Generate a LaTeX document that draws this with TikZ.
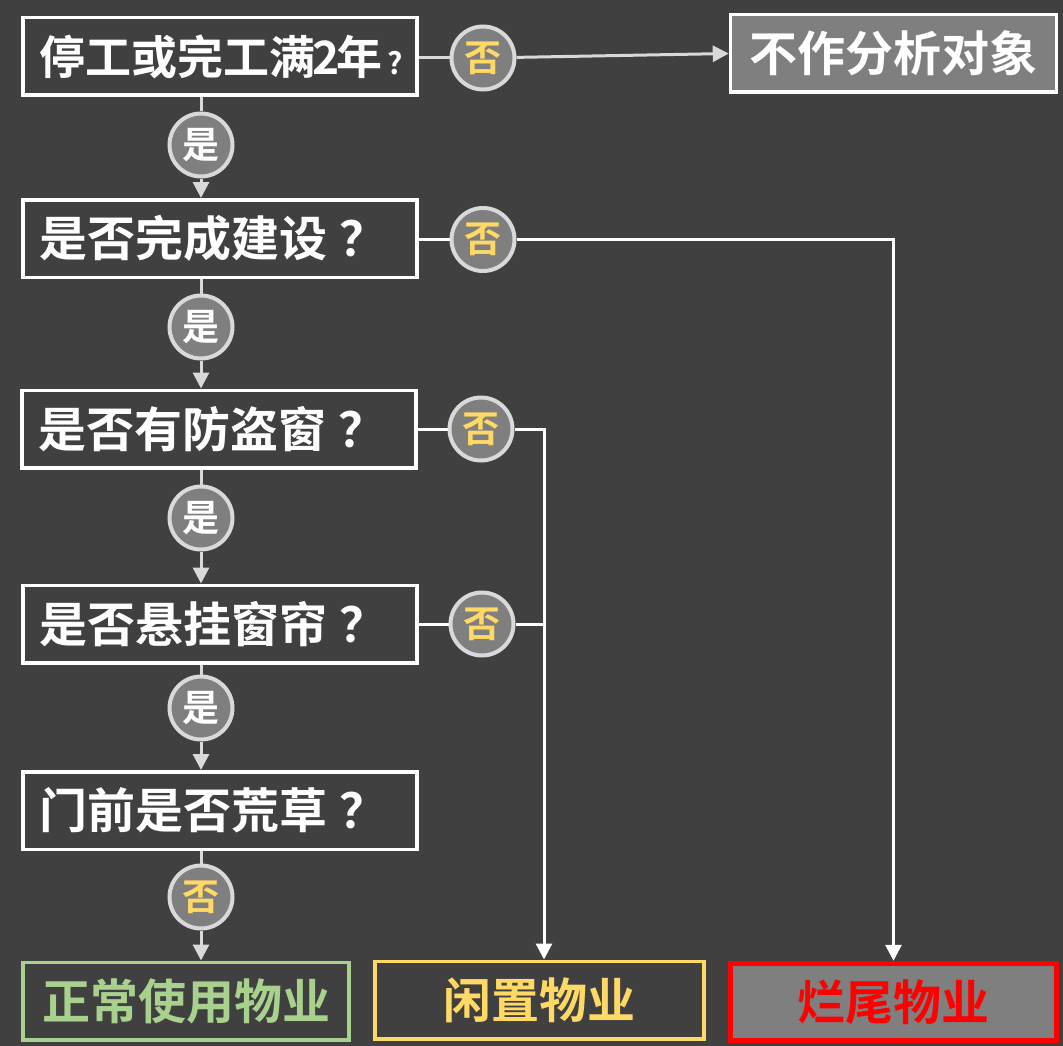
\documentclass[tikz,border=0pt]{standalone}
\usepackage{fontspec}
\setmainfont{Noto Sans CJK SC}[BoldFont={Noto Sans CJK SC Bold}]
\usepackage{xcolor}
\usetikzlibrary{arrows.meta, positioning}
\definecolor{bgdark}{HTML}{404040}
\definecolor{midgray}{HTML}{7F7F7F}
\definecolor{linegray}{HTML}{D9D9D9}
\definecolor{noyellow}{HTML}{FFD966}
\definecolor{okgreen}{HTML}{A9D18E}
\definecolor{ruinred}{HTML}{FF0000}
\newcommand{\qmark}{\kern12pt？}
\tikzset{
    question/.style={rectangle, draw=white, line width=3.5pt, text=white, font=\bfseries\fontsize{48pt}{52pt}\selectfont, text width=362pt, inner xsep=16pt, inner ysep=0pt, align=left, minimum height=77.5pt},
    outcome/.style={rectangle, line width=3.5pt, font=\bfseries\fontsize{48pt}{52pt}\selectfont, minimum width=326pt, minimum height=77.5pt, inner sep=0pt},
    yescircle/.style={circle, draw=linegray, line width=4pt, fill=midgray, text=white, minimum size=63pt, inner sep=0pt, font=\bfseries\fontsize{37pt}{37pt}\selectfont},
    nocircle/.style={yescircle, text=noyellow},
    link/.style={linegray, line width=3pt},
    branch/.style={white, line width=3pt},
    arrow/.style={-{Triangle[length=16pt, width=16pt]}}
}

\begin{document}
\begin{tikzpicture}[x=1pt, y=-1pt]
    \fill[bgdark] (0,0) rectangle (1063,1046);
    \useasboundingbox (0,0) rectangle (1063,1046);

    % Questions
    \node[question, font=\bfseries\fontsize{46pt}{50pt}\selectfont] (q1) at (220,56.5) {停工或完工满\kern-3pt 2\kern-3pt 年\kern5pt{\fontsize{30pt}{30pt}\selectfont ?}};
    \node[question] (q2) at (220,238.5) {是否完成建设\qmark};
    \node[question] (q3) at (219,429) {是否有防盗窗\qmark};
    \node[question] (q4) at (220,624) {是否悬挂窗帘\qmark};
    \node[question] (q5) at (220,810.5) {门前是否荒草\qmark};

    % Outcomes
    \node[outcome, draw=white, fill=midgray, text=white] (skip) at (893.5,53.5) {不作分析对象};
    \node[outcome, draw=okgreen, text=okgreen] (normal) at (186,1001) {正常使用物业};
    \node[outcome, draw=noyellow, text=noyellow, minimum width=329pt] (idle) at (539.5,1000) {闲置物业};
    \node[outcome, draw=ruinred, fill=midgray, text=ruinred, line width=5pt] (ruin) at (893.5,1002) {烂尾物业};

    % Yes branches
    \foreach \a/\b/\y [count=\i] in {q1/q2/145, q2/q3/327, q3/q4/518, q4/q5/708} {
        \node[yescircle] (y\i) at (201,\y) {是};
        \draw[link] (\a.south -| y\i) -- (y\i);
        \draw[link, arrow] (y\i) -- (\b.north -| y\i);
    }

    % No branches
    \node[nocircle] (n1) at (483,58) {否};
    \draw[link] (q1.east |- n1) -- (n1);
    \draw[link, arrow] (n1) -- (skip.west);

    \node[nocircle] (n2) at (483,239.5) {否};
    \draw[branch] (q2.east |- n2) -- (n2);
    \draw[branch, arrow] (n2) -| (ruin.north);

    \coordinate (join) at (544,429);
    \node[nocircle] (n3) at (481,429) {否};
    \draw[branch] (q3.east) -- (n3);
    \draw[branch, arrow] (n3) -- (join) -- (join |- idle.north);

    \node[nocircle] (n4) at (482,624) {否};
    \draw[branch] (q4.east) -- (n4) -- (n4 -| join);

    \node[nocircle] (n5) at (201,897) {否};
    \draw[link] (q5.south -| n5) -- (n5);
    \draw[link, arrow] (n5) -- (normal.north -| n5);
\end{tikzpicture}
\end{document}
